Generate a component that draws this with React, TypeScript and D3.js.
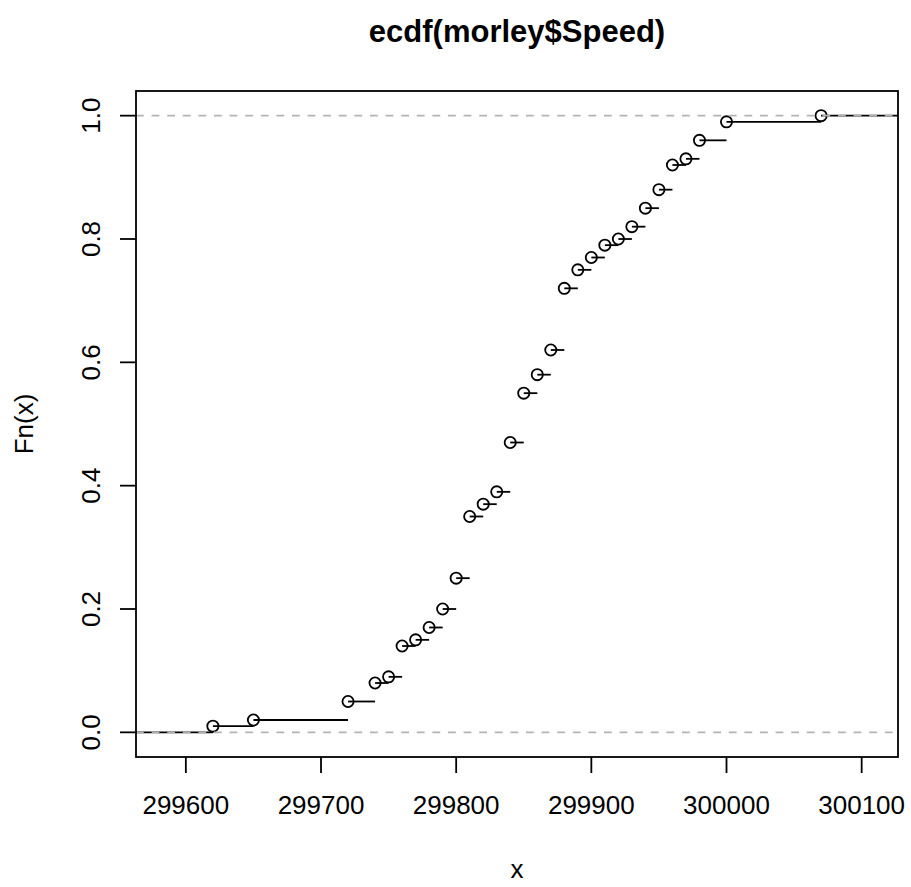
import React from "react";
import * as d3 from "d3";

const knots = [299620, 299650, 299720, 299740, 299750, 299760, 299770, 299780, 299790, 299800, 299810, 299820, 299830, 299840, 299850, 299860, 299870, 299880, 299890, 299900, 299910, 299920, 299930, 299940, 299950, 299960, 299970, 299980, 300000, 300070];
const fnValues = [0.01, 0.02, 0.05, 0.08, 0.09, 0.14, 0.15, 0.17, 0.2, 0.25, 0.35, 0.37, 0.39, 0.47, 0.55, 0.58, 0.62, 0.72, 0.75, 0.77, 0.79, 0.8, 0.82, 0.85, 0.88, 0.92, 0.93, 0.96, 0.99, 1.0];
const xTicks = [299600, 299700, 299800, 299900, 300000, 300100];
const yTicks = [0, 0.2, 0.4, 0.6, 0.8, 1.0];
const refLines = [0, 1];
const xDomain = [299563.12, 300126.88];
const yDomain = [-0.04, 1.04];

const W = 911, H = 887;
const L = 136, R = 898, T = 91, B = 757;
const FONT = "'Liberation Sans', Arial, Helvetica, sans-serif";

export default function App() {
  const x = d3.scaleLinear().domain(xDomain).range([L, R]);
  const y = d3.scaleLinear().domain(yDomain).range([B, T]);
  const lw = 1.8;

  const segs: { x0: number; x1: number; v: number }[] = [];
  segs.push({ x0: xDomain[0] - 50, x1: knots[0], v: 0 });
  knots.forEach((k, i) => {
    const next = i < knots.length - 1 ? knots[i + 1] : xDomain[1] + 50;
    segs.push({ x0: k, x1: next, v: fnValues[i] });
  });

  return (
    <svg width={W} height={H} style={{ position: "absolute", left: 0, top: 0, background: "#fff" }} fontFamily={FONT}>
      <defs>
        <clipPath id="plotclip">
          <rect x={L} y={T} width={R - L} height={B - T} />
        </clipPath>
      </defs>
      <rect x={0} y={0} width={W} height={H} fill="#fff" />
      <text x={(L + R) / 2} y={42} textAnchor="middle" fontWeight="bold" fontSize={31}>
        ecdf(morley$Speed)
      </text>
      <g clipPath="url(#plotclip)">
        {segs.map((s, i) => (
          <line key={"s" + i} x1={x(s.x0)} x2={x(s.x1)} y1={y(s.v)} y2={y(s.v)} stroke="#000" strokeWidth={lw} />
        ))}
        {knots.map((k, i) => (
          <circle key={"c" + i} cx={x(k)} cy={y(fnValues[i])} r={5.6} fill="none" stroke="#000" strokeWidth={lw} />
        ))}
        {refLines.map((v) => (
          <line key={"h" + v} x1={L} x2={R} y1={y(v)} y2={y(v)} stroke="#b3b3b3" strokeWidth={lw} strokeDasharray="7.8,7.8" />
        ))}
      </g>
      <rect x={L} y={T} width={R - L} height={B - T} fill="none" stroke="#000" strokeWidth={lw} />
      {xTicks.map((t) => (
        <g key={"xt" + t}>
          <line x1={x(t)} x2={x(t)} y1={B} y2={B + 16} stroke="#000" strokeWidth={lw} />
          <text x={x(t)} y={814} textAnchor="middle" fontSize={26}>
            {t}
          </text>
        </g>
      ))}
      {yTicks.map((t) => (
        <g key={"yt" + t}>
          <line x1={L - 16} x2={L} y1={y(t)} y2={y(t)} stroke="#000" strokeWidth={lw} />
          <text transform={`translate(100,${y(t)}) rotate(-90)`} textAnchor="middle" fontSize={26}>
            {t.toFixed(1)}
          </text>
        </g>
      ))}
      <text x={(L + R) / 2} y={878} textAnchor="middle" fontSize={26}>
        x
      </text>
      <text transform={`translate(33,${(T + B) / 2}) rotate(-90)`} textAnchor="middle" fontSize={26}>
        Fn(x)
      </text>
    </svg>
  );
}
